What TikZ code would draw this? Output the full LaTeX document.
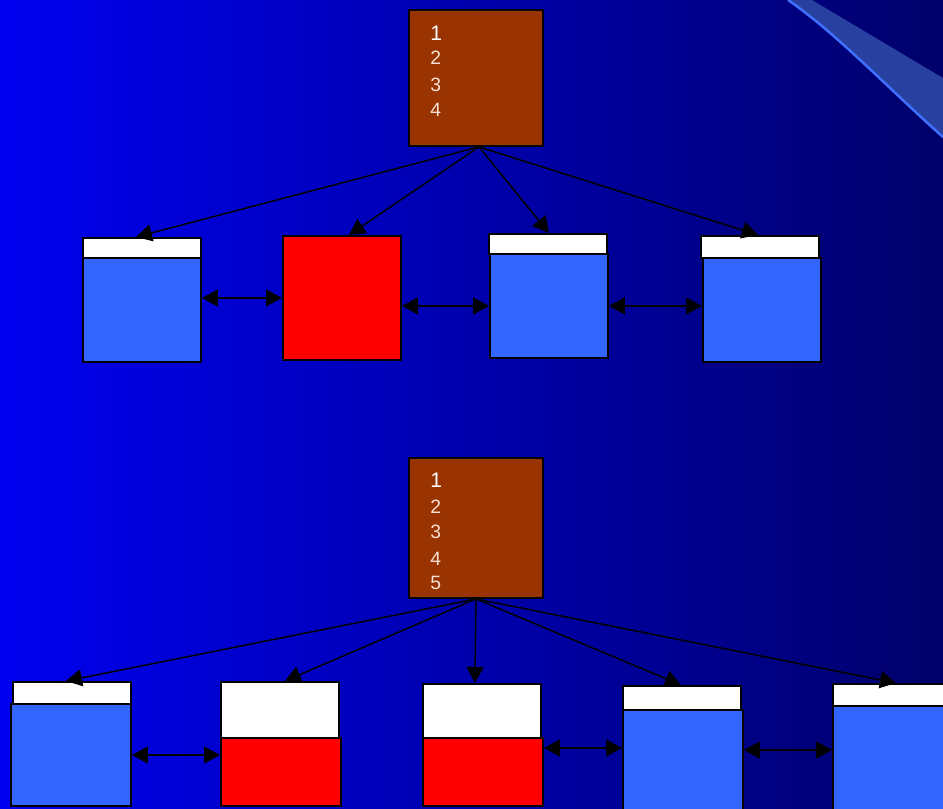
\documentclass[tikz,border=0pt]{standalone}
\usepackage{fontspec}
\setmainfont{Liberation Sans}
\usepackage{tikz}
\usetikzlibrary{arrows.meta,positioning,calc}

\definecolor{bgleft}{RGB}{0,0,240}
\definecolor{bgright}{RGB}{0,0,106}
\definecolor{rootbrown}{RGB}{153,51,0}
\definecolor{cellblue}{RGB}{51,102,255}
\definecolor{swoosh}{RGB}{40,64,160}
\definecolor{swooshedge}{RGB}{64,112,255}
\definecolor{numpink}{RGB}{245,224,212}

\begin{document}
\begin{tikzpicture}[x=0.02cm,y=-0.02cm,
    rootbox/.style={draw,fill=rootbrown,line width=1.1pt,inner sep=0pt,anchor=north west,minimum width=2.68cm},
    hdr/.style={draw,fill=white,line width=1.1pt,inner sep=0pt,anchor=north west,minimum width=2.36cm},
    cell/.style={draw,fill=cellblue,line width=1.1pt,inner sep=0pt,anchor=north west,minimum width=2.36cm,minimum height=2.08cm},
    hot/.style={draw,fill=red,line width=1.1pt,inner sep=0pt,anchor=north west,minimum width=2.4cm},
    num/.style={anchor=base west,inner sep=0pt,text=numpink,font=\fontsize{11}{13}\selectfont},
    first/.style={num,text=white,font=\fontsize{12}{14}\selectfont},
    tip/.style={line width=0.85pt,-{Triangle[length=0.32cm,width=0.34cm]}},
    dbl/.style={line width=0.85pt,{Triangle[length=0.32cm,width=0.34cm]}-{Triangle[length=0.32cm,width=0.34cm]}}]

    \useasboundingbox (0,0) rectangle (943,808);
    \clip (0,0) rectangle (943,808);
    \shade[left color=bgleft,right color=bgright] (0,0) rectangle (943,808);

    % corner swoosh
    \fill[swoosh] (788,0) .. controls (835,32) and (890,90) .. (943,137) -- (943,78) -- (812,0) -- cycle;
    \draw[swooshedge,line width=1.4pt] (788,0) .. controls (835,32) and (890,90) .. (943,137);

    % upper tree
    \node[rootbox,minimum height=2.72cm] (root1) at (408,9) {};
    \node[first] (a1) at (430,40) {1};
    \foreach \d/\y in {2/64,3/91,4/116}
        \node[num] (a\d) at (430,\y) {\d};

    \node[hdr,minimum height=0.4cm] (h1) at (82,237) {};
    \node[cell] (b1) at (82,257) {};
    \node[hot,minimum width=2.36cm,minimum height=2.48cm] (r2) at (282,235) {};
    \node[hdr,minimum height=0.4cm] (h3) at (488,233) {};
    \node[cell] (b3) at (489,253) {};
    \node[hdr,minimum height=0.44cm] (h4) at (700,235) {};
    \node[cell] (b4) at (702,257) {};

    \foreach \t/\s in {h1/-0.12,r2/0.14,h3/0.02,h4/-0.04}
        \draw[tip] ([xshift=0.06cm]root1.south) -- ([xshift=\s cm]\t.north);

    \draw[dbl] (r2.west -| b1.east) -- (r2.west);
    \draw[dbl] (b3.west -| r2.east) -- (b3.west);
    \draw[dbl] (b3.east) -- (b3.east -| b4.west);

    % lower tree
    \node[rootbox,minimum height=2.8cm] (root2) at (408,457) {};
    \node[first] (c1) at (430,487) {1};
    \foreach \d/\y in {2/513,3/538,4/565,5/589}
        \node[num] (c\d) at (430,\y) {\d};

    \node[hdr,minimum height=0.44cm] (hA) at (12,681) {};
    \node[cell,minimum width=2.4cm,minimum height=2.04cm] (bA) at (10,703) {};
    \node[hdr,minimum height=1.12cm] (wB) at (220,681) {};
    \node[hot,minimum height=1.36cm] (rB) at (220,737) {};
    \node[hdr,minimum height=1.08cm] (wC) at (422,683) {};
    \node[hot,minimum height=1.36cm] (rC) at (422,737) {};
    \node[hdr,minimum height=0.48cm] (hD) at (622,685) {};
    \node[cell,minimum width=2.4cm,minimum height=2.0cm] (bD) at (622,709) {};
    \node[hdr,minimum height=0.44cm] (hE) at (832,683) {};
    \node[cell,minimum width=2.4cm] (bE) at (832,705) {};

    \foreach \t/\s in {hA/-0.12,wB/0.1,wC/-0.14,hD/-0.02,hE/0.08}
        \draw[tip] (root2.south) -- ([xshift=\s cm]\t.north);

    \draw[dbl] (bA.east) -- (bA.east -| rB.west);
    \draw[dbl] ([yshift=-0.22cm]rC.north east) coordinate (m1) -- (m1 -| bD.west);
    \draw[dbl] ([yshift=-0.82cm]bD.north east) coordinate (m2) -- (m2 -| bE.west);
\end{tikzpicture}
\end{document}
